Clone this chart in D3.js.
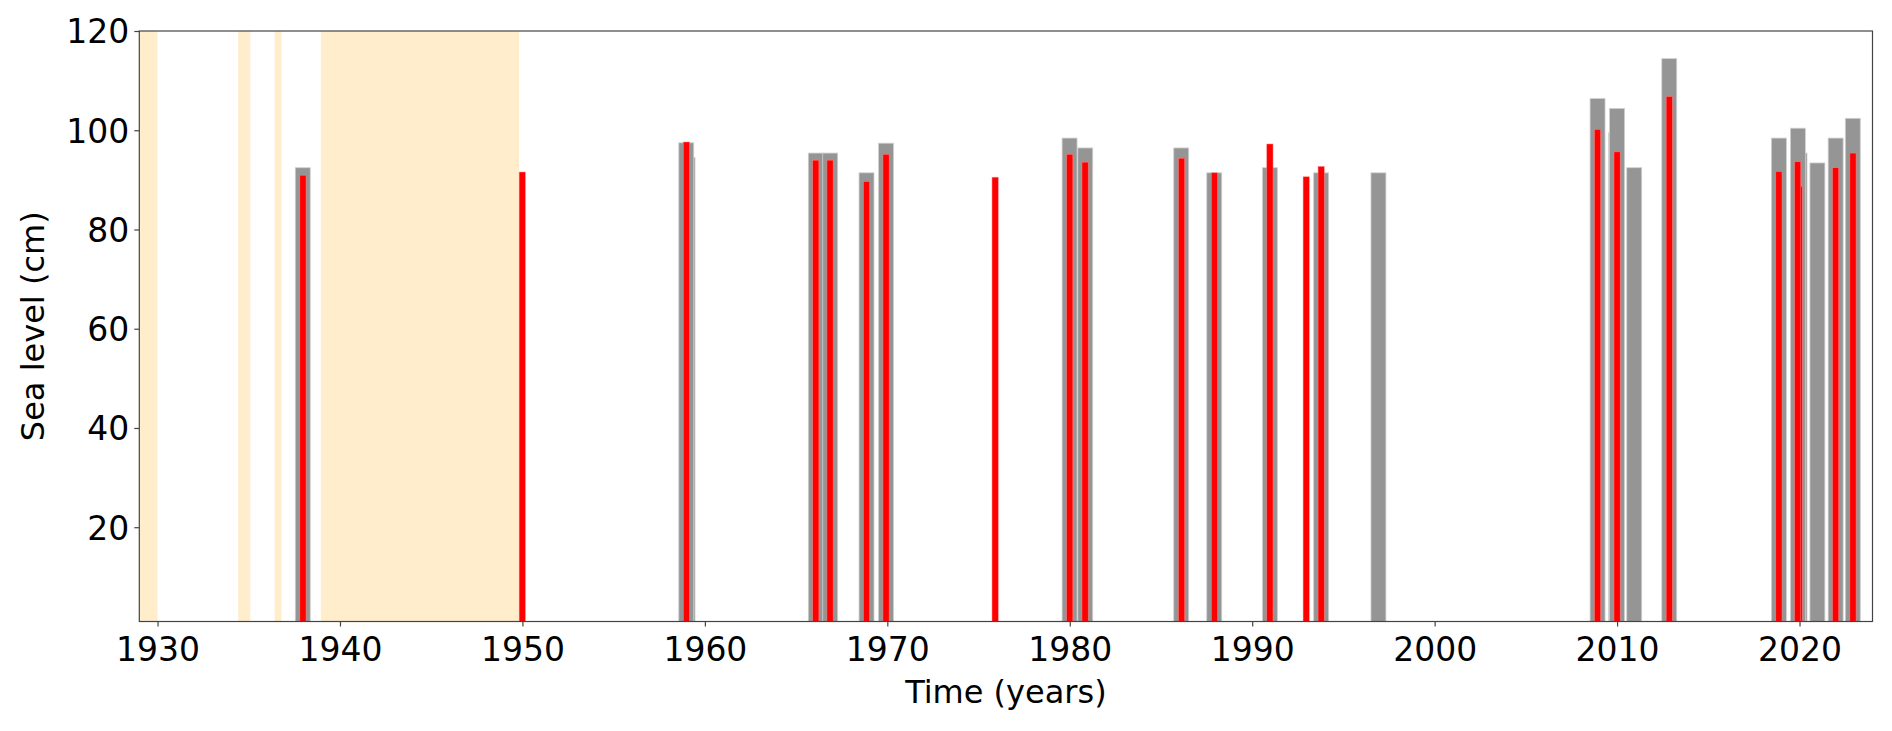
<!DOCTYPE html>
<html>
<head>
<meta charset="utf-8">
<script src="https://cdn.jsdelivr.net/npm/d3@7"></script>
<style>
  body { margin: 0; background: #fff; }
  .chart text { font-family: "DejaVu Sans", sans-serif; fill: #000; }
</style>
</head>
<body>
<div class="chart"></div>
<script>
var svgWidth = 1892;
var svgHeight = 731;

var margin = { top: 31, right: 19.5, bottom: 109.5, left: 139.3 };

var width = svgWidth - margin.left - margin.right;
var height = svgHeight - margin.top - margin.bottom;

// shaded periods (start, end in decimal years)
var spanStart = [1929.0, 1934.42, 1936.42, 1938.95];
var spanEnd   = [1930.0, 1935.08, 1936.79, 1949.82];

// gray bars: decimal year and sea level (cm)
var grayYears = [1937.96, 1958.98, 1966.08, 1966.87, 1968.86, 1969.93, 1979.99, 1980.85,
                 1986.11, 1987.92, 1990.97, 1993.78, 1996.92, 2008.93, 2010.0, 2010.94,
                 2012.86, 2018.87, 2019.91, 2020.98, 2021.98, 2022.92];
var grayLevels = [92.45, 97.47, 95.4, 95.4, 91.42, 97.39, 98.42, 96.43,
                  96.43, 91.42, 92.45, 91.42, 91.42, 106.39, 104.4, 92.45,
                  114.43, 98.42, 100.41, 93.41, 98.42, 102.4];

// second gray layer, mostly hidden behind the first
var grayYears2 = [1959.05, 2009.95, 2020.0];
var grayLevels2 = [94.5, 99.5, 95.4];

// red bars
var redYears = [1937.97, 1949.99, 1958.99, 1966.08, 1966.86, 1968.86, 1969.93, 1975.91,
                1980.0, 1980.84, 1986.13, 1987.93, 1990.97, 1992.96, 1993.78, 2008.93,
                2010.0, 2012.86, 2018.87, 2019.9, 2021.98, 2022.93];
var redLevels = [90.94, 91.58, 97.63, 93.97, 93.97, 89.67, 95.16, 90.54,
                 95.16, 93.57, 94.36, 91.42, 97.23, 90.62, 92.7, 100.18,
                 95.64, 106.8, 91.66, 93.65, 92.45, 95.4];

var redYears2 = [2019.98];
var redLevels2 = [88.7];

var xTicks = [1930, 1940, 1950, 1960, 1970, 1980, 1990, 2000, 2010, 2020];
var yTicks = [20, 40, 60, 80, 100, 120];

var grayWidth = 0.82;
var redWidth = 0.34;

var svg = d3.select(".chart")
    .append("svg")
    .attr("width", svgWidth)
    .attr("height", svgHeight);

var chart = svg.append("g")
    .attr("transform", "translate(" + margin.left + "," + margin.top + ")");

var xScale = d3.scaleLinear().domain([1929, 2024]).range([0, width]);
var yScale = d3.scaleLinear().domain([1, 120]).range([height, 0]);

svg.append("defs").append("clipPath")
    .attr("id", "plotclip")
    .append("rect")
    .attr("width", width)
    .attr("height", height);

var plot = chart.append("g").attr("clip-path", "url(#plotclip)");

var spans = spanStart.map(function(s, i) { return { s: s, e: spanEnd[i] }; });
plot.selectAll("rect.span")
    .data(spans)
    .enter().append("rect")
    .attr("class", "span")
    .attr("x", function(d) { return xScale(d.s); })
    .attr("width", function(d) { return xScale(d.e) - xScale(d.s); })
    .attr("y", 0)
    .attr("height", height)
    .attr("fill", "#ffedcc");

function drawBars(years, levels, w, fill, stroke, sw) {
    var data = years.map(function(y, i) { return { year: y, level: levels[i] }; });
    plot.append("g").selectAll("rect")
        .data(data)
        .enter().append("rect")
        .attr("x", function(d) { return xScale(d.year - w / 2); })
        .attr("width", function(d) { return xScale(d.year + w / 2) - xScale(d.year - w / 2); })
        .attr("y", function(d) { return yScale(d.level); })
        .attr("height", function(d) { return yScale(0) - yScale(d.level); })
        .attr("fill", fill)
        .attr("stroke", stroke)
        .attr("stroke-width", sw);
}

drawBars(grayYears2, grayLevels2, grayWidth, "#959595", "#d0d0d0", 0.8);
drawBars(grayYears, grayLevels, grayWidth, "#959595", "#d0d0d0", 0.8);
drawBars(redYears2, redLevels2, redWidth, "#ff0000", "#ff8080", 0.5);
drawBars(redYears, redLevels, redWidth, "#ff0000", "#ff8080", 0.5);

// axes
var bottomAxis = d3.axisBottom(xScale).tickValues(xTicks).tickFormat(d3.format("d"))
    .tickSizeInner(5).tickSizeOuter(0).tickPadding(8);
var leftAxis = d3.axisLeft(yScale).tickValues(yTicks)
    .tickSizeInner(5).tickSizeOuter(0).tickPadding(8);

var xAxisG = chart.append("g")
    .attr("transform", `translate(0, ${height})`)
    .call(bottomAxis);
var yAxisG = chart.append("g")
    .call(leftAxis);

[xAxisG, yAxisG].forEach(function(g) {
    g.select(".domain").remove();
    g.selectAll(".tick line").attr("stroke", "#444").attr("stroke-width", 1.2);
    g.selectAll(".tick text")
        .style("font-size", "33px")
        .style("font-family", "'DejaVu Sans', sans-serif")
        .attr("fill", "#000");
});
yAxisG.selectAll(".tick text").attr("x", -10).attr("dy", "0.36em");
xAxisG.selectAll(".tick text").attr("y", 8).attr("dy", "0.95em");

// frame
chart.append("rect")
    .attr("width", width)
    .attr("height", height)
    .attr("fill", "none")
    .attr("stroke", "#444")
    .attr("stroke-width", 1.2);

chart.append("text")
    .attr("transform", "rotate(-90)")
    .attr("x", 0 - (height / 2))
    .attr("y", 44 - margin.left)
    .attr("text-anchor", "middle")
    .style("font-size", "32px")
    .text("Sea level (cm)");

chart.append("text")
    .attr("x", width / 2)
    .attr("y", 703 - margin.top)
    .attr("text-anchor", "middle")
    .style("font-size", "32px")
    .text("Time (years)");
</script>
</body>
</html>
